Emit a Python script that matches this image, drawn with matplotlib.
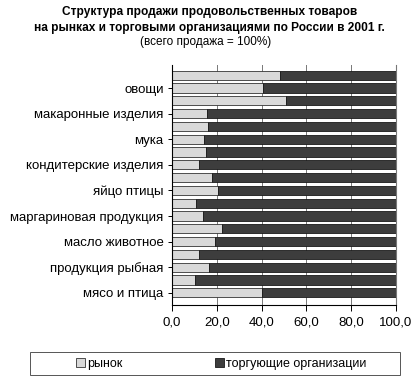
import matplotlib
matplotlib.use("Agg")
import matplotlib.pyplot as plt
from matplotlib.patches import Rectangle
from matplotlib.transforms import ScaledTranslation
import numpy as np

plt.rcParams['font.family'] = ['Liberation Sans', 'DejaVu Sans']

# Bars listed from bottom to top (18 categories, every second one labelled)
market = [40.0, 10.3, 16.3, 11.9, 19.3, 22.4, 14.0, 10.8, 20.7,
          18.0, 12.0, 15.3, 14.4, 16.2, 15.8, 50.9, 40.5, 48.2]
trade = [60.0, 89.7, 83.7, 88.1, 80.7, 77.6, 86.0, 89.2, 79.3,
         82.0, 88.0, 84.7, 85.6, 83.8, 84.2, 49.1, 59.5, 51.8]
tick_labels = ['мясо и птица', 'продукция рыбная', 'масло животное',
               'маргариновая продукция', 'яйцо птицы', 'кондитерские изделия',
               'мука', 'макаронные изделия', 'овощи']
x_ticks = [0, 20, 40, 60, 80, 100]
x_tick_labels = ['0,0', '20,0', '40,0', '60,0', '80,0', '100,0']
series_names = ['рынок', 'торгующие организации']

W, H = 419, 380
fig = plt.figure(figsize=(W / 100, H / 100), dpi=100)
ax = fig.add_axes([172 / W, (H - 305) / H, (396 - 172) / W, (305 - 65) / H])

y = np.arange(len(market))
b1 = ax.barh(y, market, height=0.72, color='#d9d9d9', edgecolor='#333333',
             linewidth=0.6, label=series_names[0])
b2 = ax.barh(y, trade, left=market, height=0.72, color='#3d3d3d',
             edgecolor='#1a1a1a', linewidth=0.6, label=series_names[1])

ax.set_xlim(0, 100)
ax.set_ylim(-0.95, 17.8)
ax.set_xticks(x_ticks)
ax.set_xticklabels(x_tick_labels, fontsize=9.5)
ax.set_yticks(y[::2])
ax.set_yticklabels(tick_labels, fontsize=9.5)
offset = ScaledTranslation(0, -7 / 72, fig.dpi_scale_trans)
for lab in ax.get_yticklabels():
    lab.set_transform(lab.get_transform() + offset)
ax.tick_params(axis='y', length=3, width=0.7, pad=3)
ax.tick_params(axis='x', length=4, width=0.7, pad=4)
ax.xaxis.grid(True, color='#777777', linewidth=0.7)
ax.set_axisbelow(True)
ax.spines['top'].set_visible(False)
ax.spines['right'].set_color('#777777')
ax.spines['left'].set_linewidth(0.8)
ax.spines['bottom'].set_linewidth(0.8)

fig.text(0.5, 1 - 12 / H, 'Структура продажи продовольственных товаров',
         ha='center', va='center', fontsize=8.6, fontweight='bold')
fig.text(0.5, 1 - 28 / H, 'на рынках и торговыми организациями по России в 2001 г.',
         ha='center', va='center', fontsize=8.6, fontweight='bold')
fig.text(0.49, 1 - 42 / H, '(всего продажа = 100%)',
         ha='center', va='center', fontsize=8.5)

fig.add_artist(Rectangle((30 / W, (H - 375) / H), 370 / W, 23 / H,
                         transform=fig.transFigure, fill=False,
                         edgecolor='#555555', linewidth=0.7))
leg = fig.legend(handles=[b1, b2], labels=series_names, ncol=2,
                 loc='center left', bbox_to_anchor=(76 / W, (H - 364) / H),
                 frameon=False, fontsize=9, handlelength=0.7, handleheight=0.7,
                 handletextpad=0.2, columnspacing=7.4, borderpad=0,
                 borderaxespad=0)

fig.savefig('out.png', dpi=100)
